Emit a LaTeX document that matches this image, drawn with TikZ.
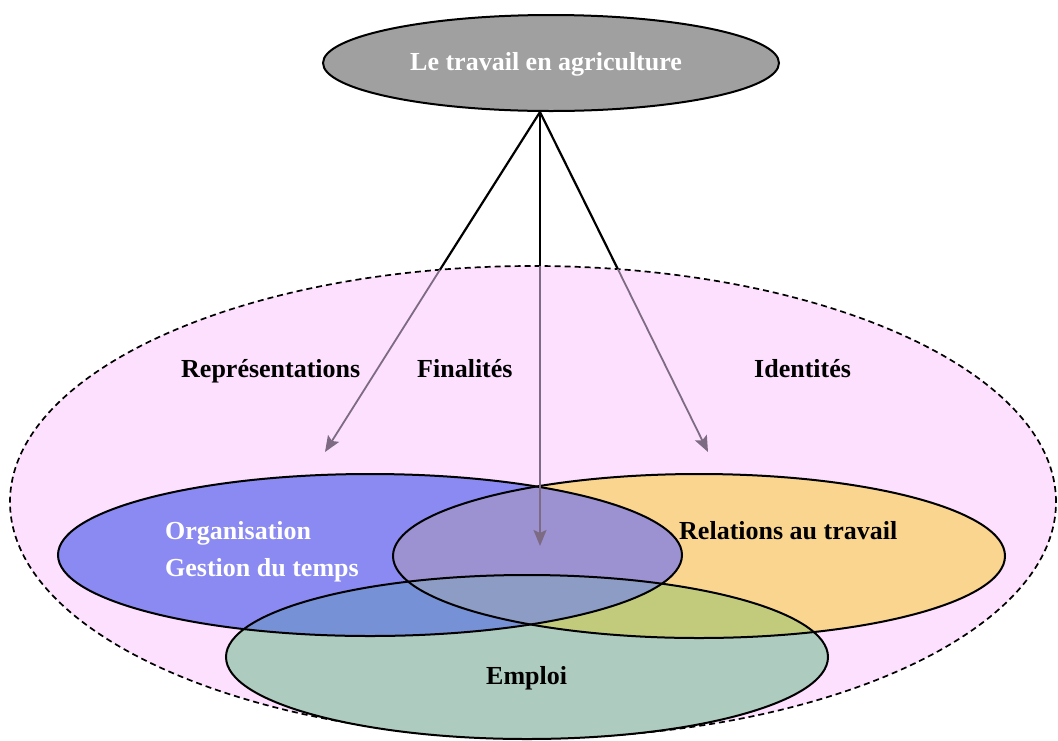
\documentclass[tikz,border=0pt]{standalone}
\usepackage{fontspec}
\setmainfont{Liberation Serif}
\usetikzlibrary{arrows.meta,shapes.geometric}
\definecolor{pinkc}{HTML}{FDE0FD}
\definecolor{yellowc}{HTML}{FAD58F}
\definecolor{bluec}{HTML}{8A8AF2}
\definecolor{bycol}{HTML}{9C92D2}
\definecolor{greenc}{HTML}{AECBC0}
\definecolor{bgcol}{HTML}{7691D6}
\definecolor{ygcol}{HTML}{C2CB7C}
\definecolor{bygcol}{HTML}{8C9CC4}
\definecolor{grayc}{HTML}{A0A0A0}
\definecolor{arrc}{HTML}{7D6B83}
\def\BigE{(533,502) ellipse [x radius=523pt, y radius=236pt]}
\def\BluE{(370,555) ellipse [x radius=312pt, y radius=81pt]}
\def\YelE{(699,556) ellipse [x radius=306pt, y radius=82pt]}
\def\GrnE{(527,657) ellipse [x radius=301pt, y radius=82pt]}
\begin{document}
\begin{tikzpicture}[x=1pt,y=-1pt,
  lbl/.style={inner sep=0pt, anchor=base west, font=\fontsize{26}{30}\selectfont\bfseries},
  outl/.style={draw=black, line width=2pt},
  blk/.style={draw=black, line width=2.2pt},
  inarr/.style={draw=arrc, line width=1.8pt, -{Stealth[length=16pt,width=13pt,inset=3pt]}}]
\useasboundingbox (0,0) rectangle (1058,740);
% background dashed ellipse
\fill[pinkc] \BigE;
\draw[black, line width=1.7pt, dash pattern=on 6pt off 4pt] \BigE;
% Venn fills
\fill[yellowc] \YelE;
\fill[bluec] \BluE;
\begin{scope}\clip \BluE; \fill[bycol] \YelE; \end{scope}
\fill[greenc] \GrnE;
\begin{scope}\clip \GrnE; \fill[bgcol] \BluE; \end{scope}
\begin{scope}\clip \GrnE; \fill[ygcol] \YelE; \end{scope}
\begin{scope}\clip \GrnE; \clip \BluE; \fill[bygcol] \YelE; \end{scope}
% outlines
\draw[outl] \BluE;
\draw[outl] \YelE;
\draw[outl] \GrnE;
% top node
\node[ellipse, draw=black, line width=2pt, fill=grayc, minimum width=456pt, minimum height=96pt, inner sep=0pt] (top) at (551,63) {};
\node[lbl, text=white] (toplbl) at (410,70) {Le travail en agriculture};
% connectors
\coordinate (apex) at (540,112);
\coordinate (bl) at (440,269.7);
\coordinate (bc) at (540,266);
\coordinate (br) at (617.8,269);
\coordinate (tl) at (325,452);
\coordinate (tc) at (540,546);
\coordinate (tr) at (708,452);
\draw[blk] (apex) -- (bl);
\draw[blk] (apex) -- (bc);
\draw[blk] (apex) -- (br);
\draw[inarr] (bl) -- (tl);
\draw[inarr] (bc) -- (tc);
\draw[inarr] (br) -- (tr);
% labels
\node[lbl] (rep) at (181,377) {Représentations};
\node[lbl] (fin) at (417,377) {Finalités};
\node[lbl] (ide) at (754,377) {Identités};
\node[lbl, text=white] (org) at (165,539) {Organisation};
\node[lbl, text=white] (ges) at (165,576) {Gestion du temps};
\node[lbl] (rel) at (679,539) {Relations au travail};
\node[lbl] (emp) at (486,684) {Emploi};
\end{tikzpicture}
\end{document}
